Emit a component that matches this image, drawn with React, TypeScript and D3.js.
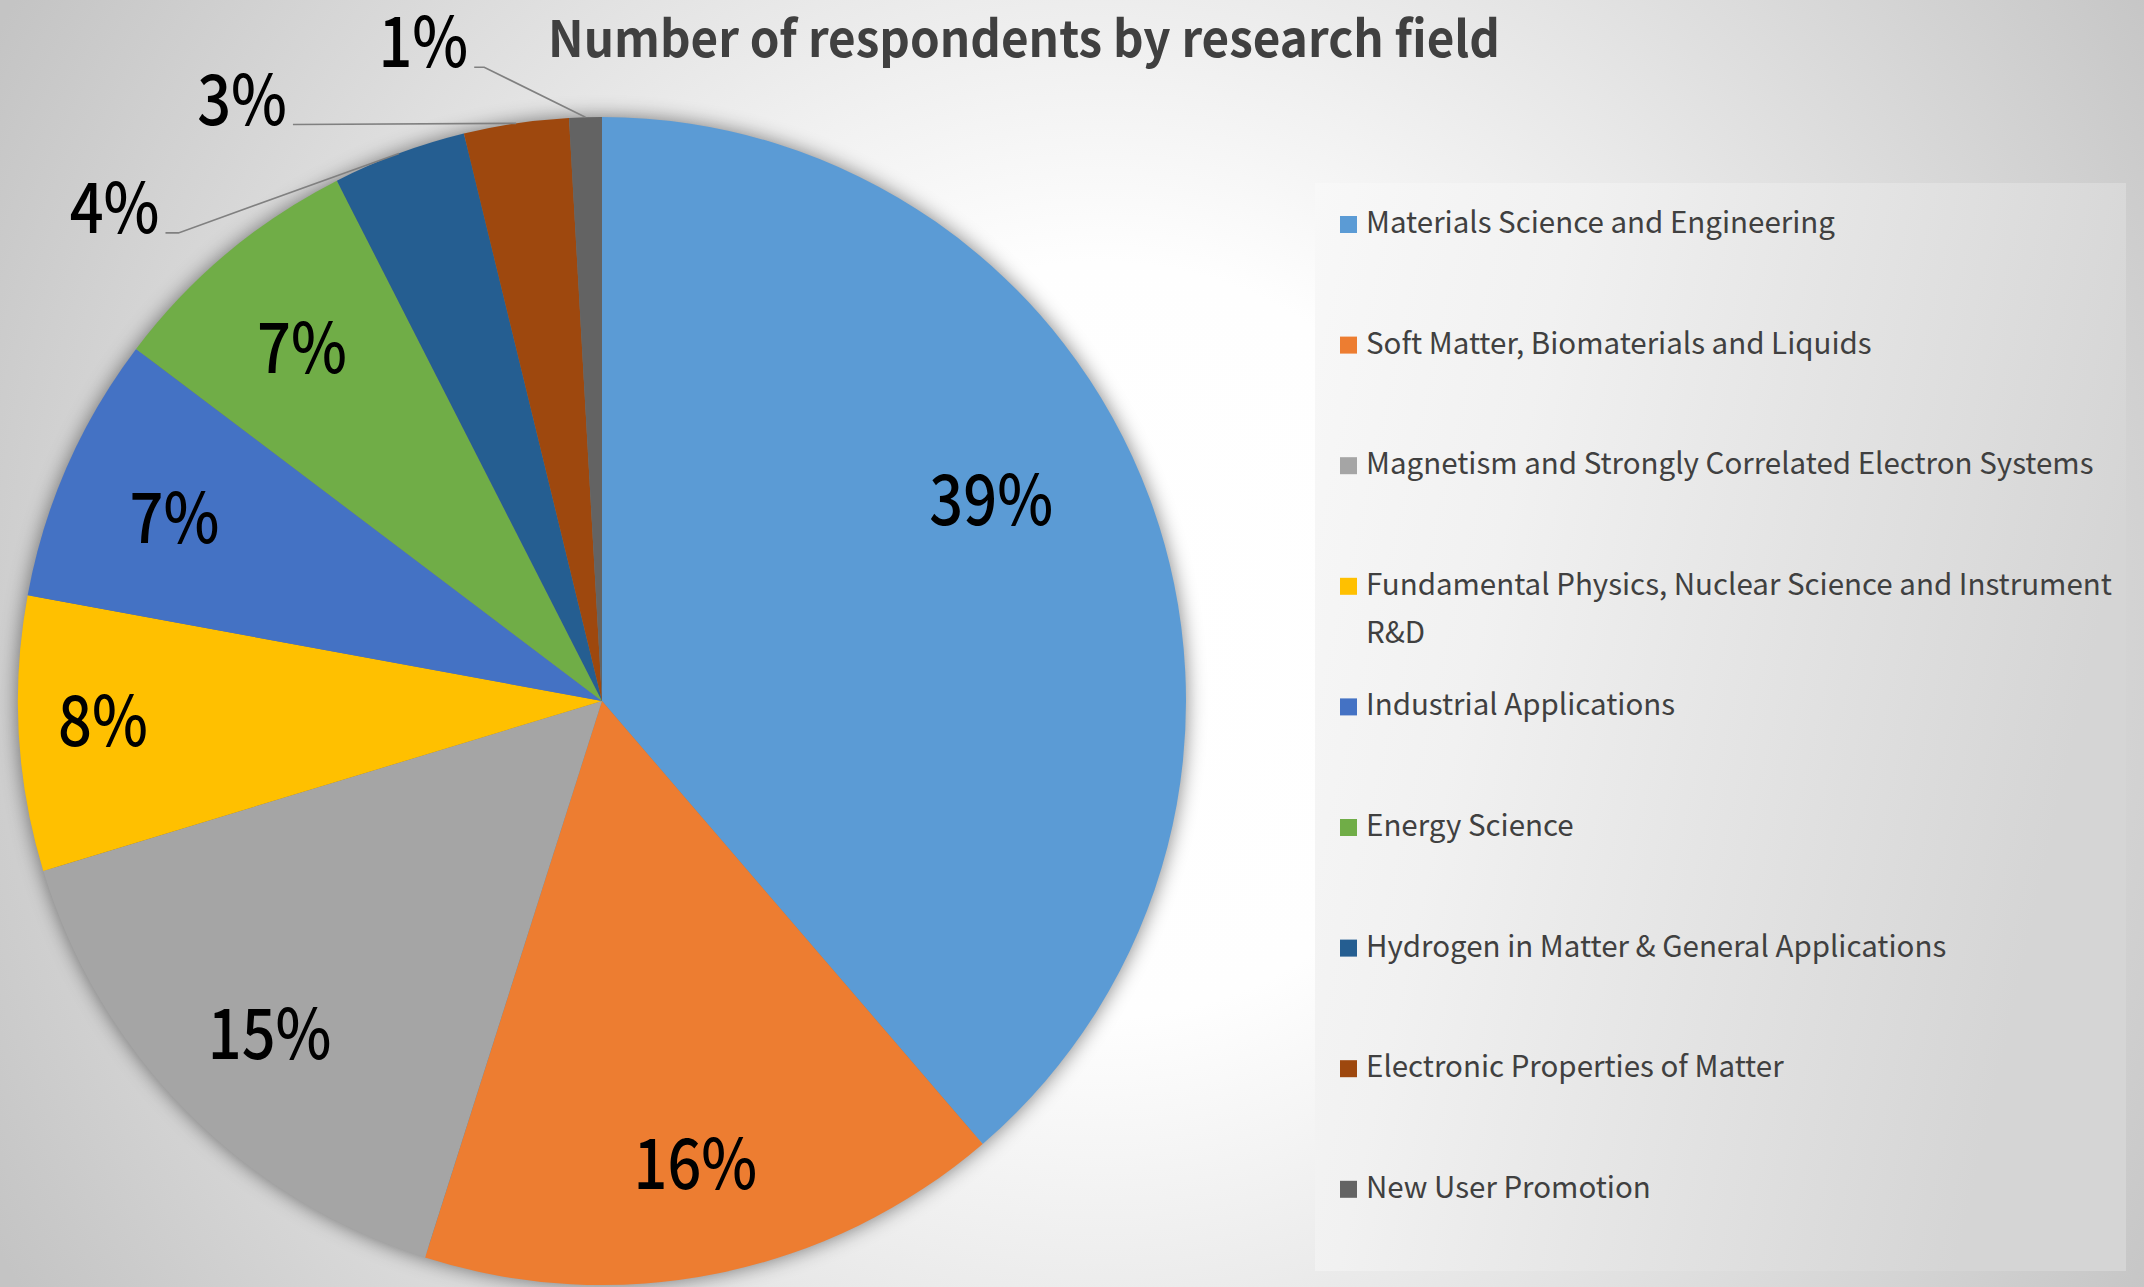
import React from "react";
import * as d3 from "d3";

// ---- data ----
const categories = [
  "Materials Science and Engineering",
  "Soft Matter, Biomaterials and Liquids",
  "Magnetism and Strongly Correlated Electron Systems",
  "Fundamental Physics, Nuclear Science and Instrument R&D",
  "Industrial Applications",
  "Energy Science",
  "Hydrogen in Matter & General Applications",
  "Electronic Properties of Matter",
  "New User Promotion",
];
const shares = [38.7, 16.2, 15.4, 7.6, 7.4, 7.2, 3.7, 2.9, 0.9];
const sliceColors = [
  "#5B9BD5",
  "#ED7D31",
  "#A5A5A5",
  "#FFC000",
  "#4472C4",
  "#70AD47",
  "#255E91",
  "#9E480E",
  "#636363",
];
const chartTitle = "Number of respondents by research field";

// ---- layout ----
const W = 2144;
const H = 1287;
const CX = 602;
const CY = 701;
const R = 584;
const LABEL_RF = 0.8;
const LABEL_SX = 0.85;
const FONT = "'Noto Sans CJK JP', 'Noto Sans', sans-serif";
// "best fit" placements for some inside labels (angle in degrees, radius factor)
const insideOverrides: Record<number, { a: number; rf: number }> = {
  0: { a: 62.1, rf: 0.754 },
  3: { a: 268.3, rf: 0.855 },
};
// outside label anchors (angle in degrees, radius factor) for small slices
const outsideAnchors: Record<number, { a: number; rf: number; elbow: number }> = {
  6: { a: 317, rf: 1.096, elbow: 13 },
  7: { a: 331.8, rf: 1.12, elbow: 0 },
  8: { a: 348.6, rf: 1.107, elbow: 10 },
};
const legend = { x: 1315, y: 183, w: 811, h: 1088, firstBaseline: 233, step: 120.6, lineH: 48, wrap: 770, fs: 29.5 };

function wrapText(text: string, maxW: number, font: string): string[] {
  const c = document.createElement("canvas").getContext("2d");
  if (!c) return [text];
  c.font = font;
  const words = text.split(" ");
  const lines: string[] = [];
  let cur = "";
  for (const w of words) {
    const t = cur ? cur + " " + w : w;
    if (c.measureText(t).width > maxW && cur) {
      lines.push(cur);
      cur = w;
    } else cur = t;
  }
  if (cur) lines.push(cur);
  return lines;
}

export default function App() {
  const pie = d3.pie<number>().sort(null).value((d) => d);
  const arcs = pie(shares);
  const arcGen = d3.arc<d3.PieArcDatum<number>>().innerRadius(0).outerRadius(R);
  const labelArc = d3
    .arc<d3.PieArcDatum<number>>()
    .innerRadius(R * LABEL_RF)
    .outerRadius(R * LABEL_RF);
  const total = d3.sum(shares);
  const pct = (v: number) => `${Math.round((v / total) * 100)}%`;
  const polar = (a: number, r: number): [number, number] => [
    r * Math.sin(a),
    -r * Math.cos(a),
  ];
  const deg = (d: number) => (d * Math.PI) / 180;

  return (
    <svg
      width={W}
      height={H}
      style={{ position: "absolute", left: 0, top: 0, display: "block" }}
      fontFamily={FONT}
    >
      <defs>
        <radialGradient id="bg" gradientUnits="userSpaceOnUse" cx={1100} cy={640} r={1260}>
          <stop offset="0" stopColor="#ffffff" />
          <stop offset="0.3" stopColor="#fefefe" />
          <stop offset="1" stopColor="#c4c4c4" />
        </radialGradient>
        <linearGradient id="lg" x1="0" y1="0" x2="1" y2="0.3">
          <stop offset="0" stopColor="#f8f8f8" />
          <stop offset="0.3" stopColor="#f1f1f1" />
          <stop offset="1" stopColor="#d5d5d5" />
        </linearGradient>
        <filter id="shadow" x="-20%" y="-20%" width="140%" height="140%">
          <feGaussianBlur in="SourceAlpha" stdDeviation="10" />
          <feComponentTransfer>
            <feFuncA type="linear" slope="0.5" />
          </feComponentTransfer>
        </filter>
      </defs>
      <rect width={W} height={H} fill="url(#bg)" />

      <text
        x={1024}
        y={57}
        textAnchor="middle"
        fontSize={50}
        fontWeight="bold"
        fill="#404040"
        textLength={952}
        lengthAdjust="spacingAndGlyphs"
      >
        {chartTitle}
      </text>

      <g transform={`translate(${CX},${CY})`}>
        <circle r={R} fill="#000" filter="url(#shadow)" />
        {arcs.map((a, i) => (
          <path key={i} d={arcGen(a) || ""} fill={sliceColors[i]} />
        ))}
        {arcs.map((a, i) => {
          const anc = outsideAnchors[i];
          if (anc) {
            const mid = (a.startAngle + a.endAngle) / 2;
            const [ex, ey] = polar(mid, R);
            const [tx, ty] = polar(deg(anc.a), R * anc.rf);
            const pts = [
              [ex, ey],
              [tx + anc.elbow, ty],
              [tx, ty],
            ];
            return (
              <g key={"o" + i}>
                <polyline
                  points={pts.map((p) => p.join(",")).join(" ")}
                  fill="none"
                  stroke="#808080"
                  strokeWidth={1.6}
                />
                <text
                  transform={`translate(${tx - 6},${ty}) scale(${LABEL_SX},1)`}
                  textAnchor="end"
                  fontSize={70}
                  fontWeight={500}
                  fill="#000"
                >
                  {pct(a.value)}
                </text>
              </g>
            );
          }
          const ov = insideOverrides[i];
          const [lx, ly] = ov ? polar(deg(ov.a), R * ov.rf) : labelArc.centroid(a);
          return (
            <text
              key={"l" + i}
              transform={`translate(${lx},${ly}) scale(${LABEL_SX},1)`}
              textAnchor="middle"
              dominantBaseline="central"
              fontSize={70}
              fontWeight={500}
              fill="#000"
            >
              {pct(a.value)}
            </text>
          );
        })}
      </g>

      <g>
        <rect x={legend.x} y={legend.y} width={legend.w} height={legend.h} fill="url(#lg)" />
        {categories.map((c, i) => {
          const base = legend.firstBaseline + i * legend.step;
          const lines = wrapText(c, legend.wrap, `${legend.fs}px ${FONT}`);
          return (
            <g key={c}>
              <rect x={1340} y={base - 17} width={17} height={17} fill={sliceColors[i]} />
              <text x={1366} y={base} fontSize={legend.fs} fill="#404040">
                {lines.map((ln, k) => (
                  <tspan key={k} x={1366} y={base + k * legend.lineH}>
                    {ln}
                  </tspan>
                ))}
              </text>
            </g>
          );
        })}
      </g>
    </svg>
  );
}
